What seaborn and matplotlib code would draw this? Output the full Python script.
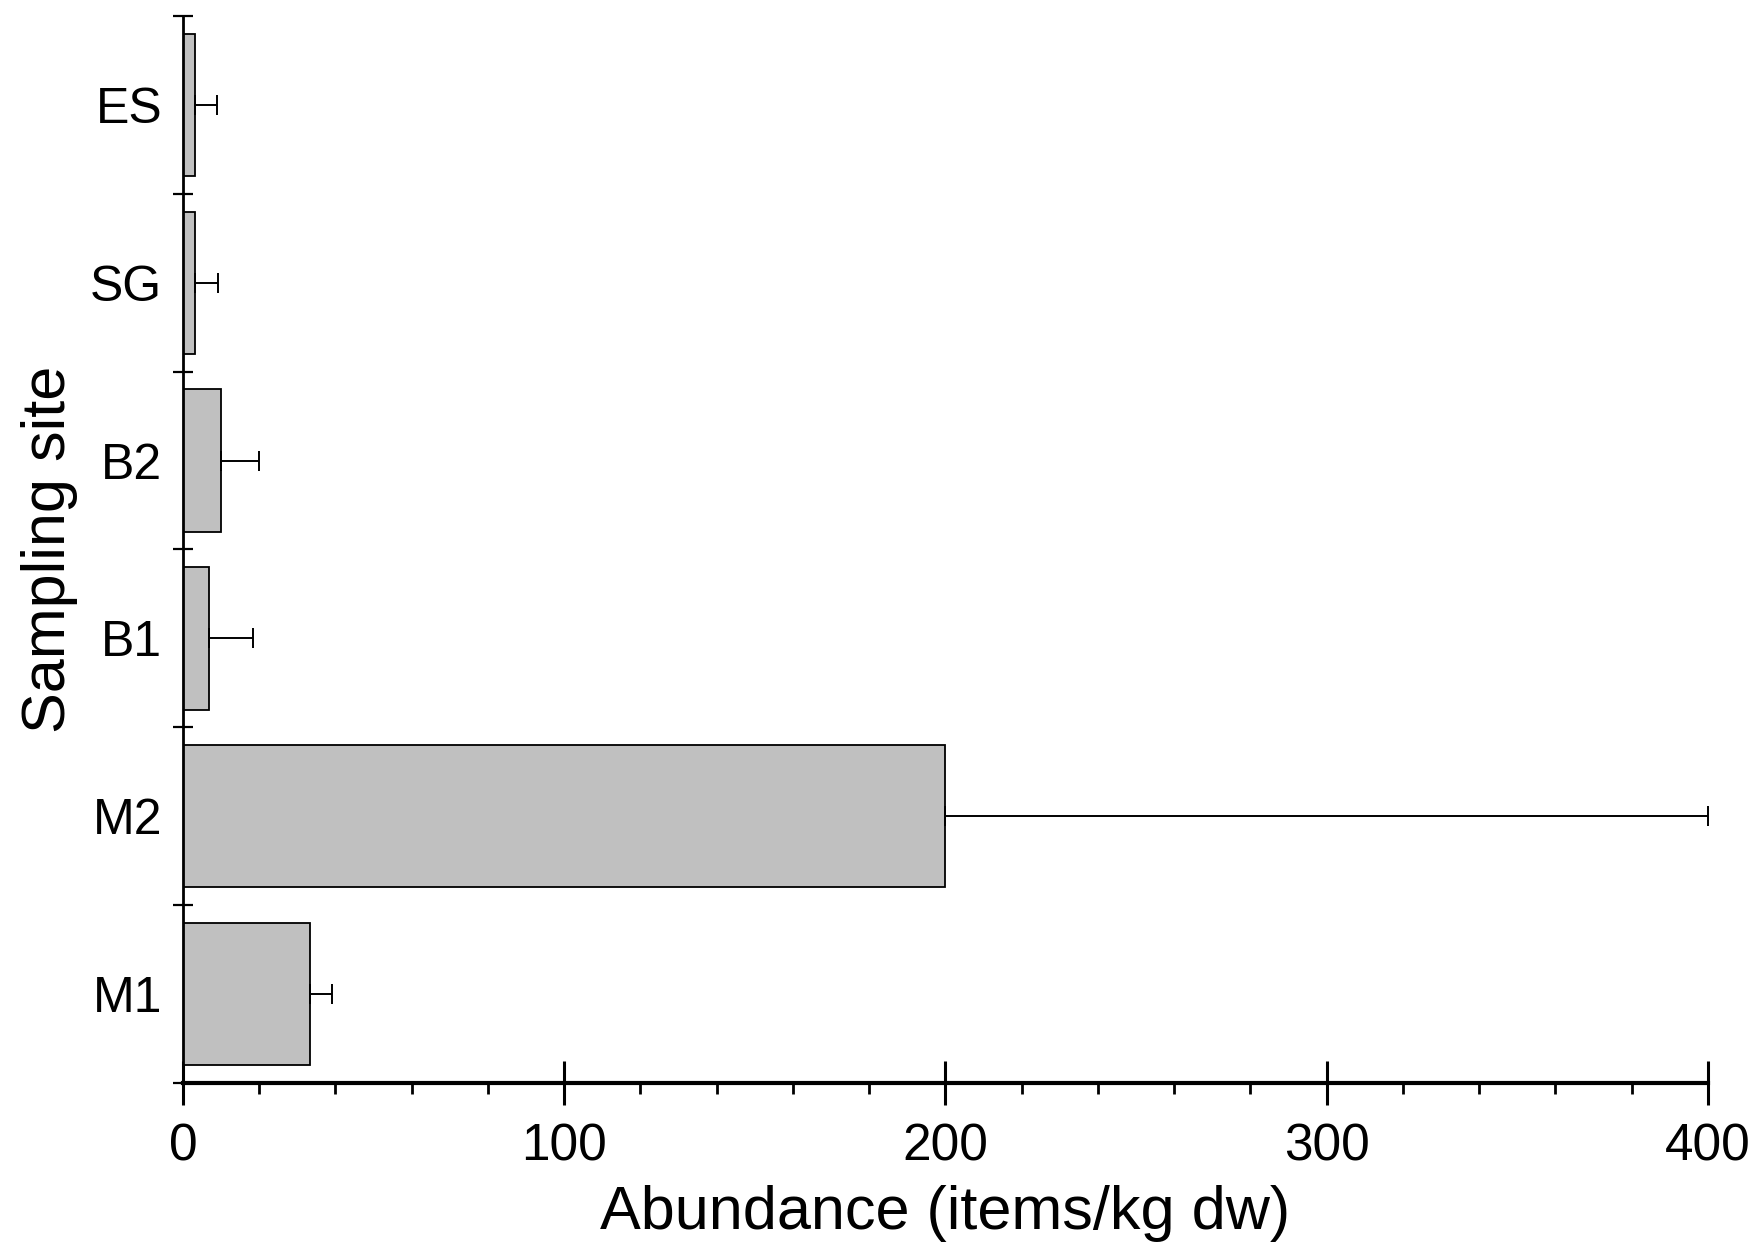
import seaborn as sns
import matplotlib.pyplot as plt
import pandas as pd
import numpy as np

# abundance per sampling site (mean and SD)
sites = ['ES', 'SG', 'B2', 'B1', 'M2', 'M1']
abundance = [3.2, 3.2, 10.0, 6.7, 200.0, 33.3]
sd = [5.8, 5.9, 10.0, 11.6, 200.0, 5.8]

df = pd.DataFrame({'site': sites, 'abundance': abundance, 'sd': sd})

sns.set_theme(style="ticks")
plt.rcParams['font.family'] = ['Liberation Sans', 'DejaVu Sans']
plt.rcParams['text.color'] = 'black'
plt.rcParams['axes.labelcolor'] = 'black'

fig = plt.figure(figsize=(17.63, 12.58), dpi=100)
ax = fig.add_axes([0.1038, 0.1391, 0.8650, 0.8482])

sns.barplot(data=df, x='abundance', y='site', order=sites, orient='h',
            color='#c0c0c0', saturation=1, edgecolor='black', linewidth=1.3,
            width=0.8, errorbar=None, ax=ax)
# one-sided error bars (upper SD only)
ypos = np.arange(len(sites))
ax.errorbar(df['abundance'], ypos, xerr=[np.zeros(len(sites)), df['sd']],
            fmt='none', ecolor='black', elinewidth=1.4, capsize=7.5, capthick=1.4)

ax.set_xlim(0, 400)
ax.set_ylim(len(sites) - 0.5, -0.5)

ax.set_xticks(np.arange(0, 401, 100))
ax.set_xticks(np.arange(0, 401, 20), minor=True)
ax.tick_params(axis='x', which='major', direction='inout', length=31, width=2.2,
               labelsize=37, pad=13, colors='black')
ax.tick_params(axis='x', which='minor', direction='out', length=8, width=2, colors='black')

ax.set_yticks(ypos)
ax.set_yticklabels(sites)
ax.set_yticks(np.arange(-0.5, len(sites), 1), minor=True)
ax.tick_params(axis='y', which='major', length=0, labelsize=36, pad=15, colors='black')
ax.tick_params(axis='y', which='minor', direction='inout', length=14, width=1.6, colors='black')

ax.set_xlabel('Abundance (items/kg dw)', fontsize=44, labelpad=10)
ax.set_ylabel('Sampling site', fontsize=44, labelpad=9)

for s in ['top', 'right']:
    ax.spines[s].set_visible(False)
ax.spines['left'].set_linewidth(2)
ax.spines['bottom'].set_linewidth(3)
ax.spines['left'].set_color('black')
ax.spines['bottom'].set_color('black')

plt.savefig('out.png', dpi=100)
